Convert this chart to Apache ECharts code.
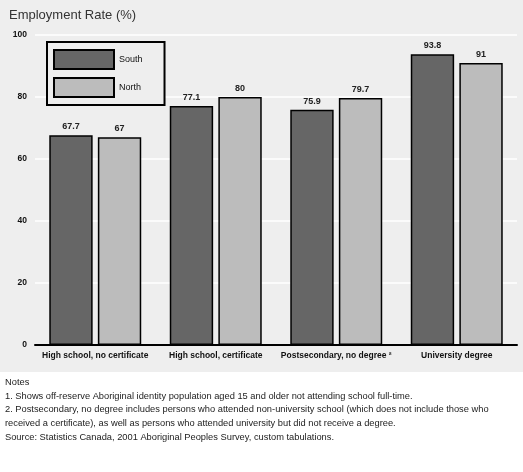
<!DOCTYPE html>
<html>
<head>
<meta charset="utf-8">
<style>html,body{margin:0;padding:0;background:#fff}#c{width:523px;height:472px}</style>
<script src="https://cdn.jsdelivr.net/npm/echarts@6/dist/echarts.min.js"></script>
</head>
<body>
<div id="c"></div>
<script>
var categories = ['High school, no certificate', 'High school, certificate', 'Postsecondary, no degree ²', 'University degree'];
var seriesNames = ['South', 'North'];
var southValues = [67.7, 77.1, 75.9, 93.8];
var northValues = [67.0, 80.0, 79.7, 91.0];
var yTicks = [0, 20, 40, 60, 80, 100];
var notes = [
  'Notes',
  '1. Shows off-reserve Aboriginal identity population aged 15 and older not attending school full-time.',
  '2. Postsecondary, no degree includes persons who attended non-university school (which does not include those who',
  'received a certificate), as well as persons who attended university but did not receive a degree.',
  'Source: Statistics Canada, 2001 Aboriginal Peoples Survey, custom tabulations.'
];

var chart = echarts.init(document.getElementById('c'));
var noteGraphics = notes.map(function (t, i) {
  return {type: 'text', left: 5, top: 378 + i * 13.7, z: 10,
    style: {text: t, fontSize: 9.3, fontFamily: 'Liberation Sans', fill: '#222'}};
});
var labelStyle = {show: true, position: 'top', distance: 4, fontSize: 9, fontWeight: 'bold', color: '#222', fontFamily: 'Liberation Sans'};
chart.setOption({
  animation: false,
  backgroundColor: '#ffffff',
  graphic: [{type: 'rect', left: 0, top: 0, z: -10, shape: {width: 523, height: 372}, style: {fill: '#eeeeee'}}].concat(noteGraphics),
  title: {text: 'Employment Rate (%)', left: 4, top: 4,
    textStyle: {fontSize: 13, fontWeight: 'normal', color: '#333', fontFamily: 'Liberation Sans'}},
  legend: {
    left: 47, top: 42, orient: 'vertical', data: seriesNames,
    icon: 'rect',
    itemWidth: 60, itemHeight: 19, itemGap: 7,
    padding: [7, 22, 7, 6],
    borderColor: '#000', borderWidth: 2, backgroundColor: '#eeeeee',
    textStyle: {fontSize: 9, color: '#111', fontFamily: 'Liberation Sans'}
  },
  grid: {left: 35, right: 6, top: 35, bottom: 127},
  xAxis: {
    type: 'category', data: categories,
    axisLine: {lineStyle: {color: '#000', width: 2}},
    axisTick: {show: false},
    axisLabel: {fontSize: 8.5, color: '#111', fontWeight: 'bold', margin: 6, interval: 0, fontFamily: 'Liberation Sans'}
  },
  yAxis: {
    type: 'value', min: yTicks[0], max: yTicks[yTicks.length - 1], interval: 20,
    axisLine: {show: false}, axisTick: {show: false},
    axisLabel: {fontSize: 8.5, color: '#111', fontWeight: 'bold', margin: 8, fontFamily: 'Liberation Sans'},
    splitLine: {lineStyle: {color: '#ffffff', width: 1.5}}
  },
  series: [
    {name: seriesNames[0], type: 'bar', data: southValues, barWidth: '36%', barGap: '12%',
      itemStyle: {color: '#666666', borderColor: '#000', borderWidth: 1.5},
      label: labelStyle},
    {name: seriesNames[1], type: 'bar', data: northValues, barWidth: '36%',
      itemStyle: {color: '#bcbcbc', borderColor: '#000', borderWidth: 1.5},
      label: labelStyle}
  ]
});
</script>
</body>
</html>
